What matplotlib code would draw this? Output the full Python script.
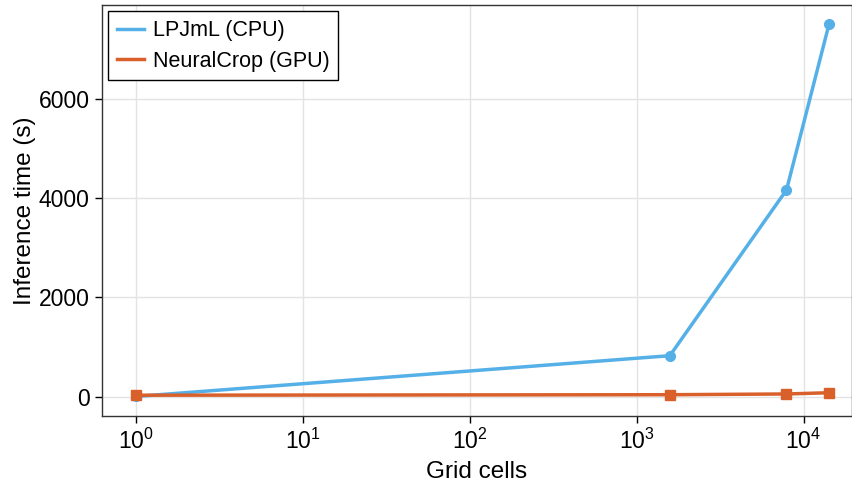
import matplotlib
matplotlib.use("Agg")
import matplotlib.pyplot as plt

# Data
grid_cells = [1, 1580, 7900, 14200]
cpu_time = [5, 826, 4163, 7500]
gpu_time = [30, 40, 55, 80]

plt.rcParams['font.family'] = ['Liberation Sans', 'DejaVu Sans']

blue = '#56B0E8'
orange = '#D9602A'

fig = plt.figure(figsize=(8.53, 4.88), dpi=100)
ax = fig.add_axes([0.1196, 0.1475, 0.8792, 0.8423])

ax.plot(grid_cells, cpu_time, color=blue, lw=2.5, marker='o', ms=7, label='LPJmL (CPU)')
ax.plot(grid_cells, gpu_time, color=orange, lw=2.5, marker='s', ms=7, label='NeuralCrop (GPU)')

ax.set_xscale('log')
ax.set_xlim(10 ** -0.204, 10 ** 4.29)
ax.set_ylim(-389, 7889)
ax.set_yticks([0, 2000, 4000, 6000])
ax.xaxis.set_minor_locator(matplotlib.ticker.NullLocator())

ax.grid(True, color='#e3e3e3', lw=1)
ax.set_axisbelow(True)
ax.tick_params(labelsize=16.5, length=5, width=1, color='black', pad=4)

ax.set_xlabel('Grid cells', fontsize=17.5, labelpad=5)
ax.set_ylabel('Inference time (s)', fontsize=17.5, labelpad=2)

for s in ax.spines.values():
    s.set_linewidth(1)
    s.set_color('#333333')

leg = ax.legend(loc='upper left', fontsize=15.5, frameon=True, fancybox=False,
                handlelength=1.25, handletextpad=0.4, borderaxespad=0.3,
                labelspacing=0.45, borderpad=0.4)
leg.get_frame().set_edgecolor('black')
leg.get_frame().set_linewidth(1)
leg.get_frame().set_alpha(1)
for h in leg.legend_handles:
    h.set_marker('')

fig.savefig('out.png', dpi=100)
